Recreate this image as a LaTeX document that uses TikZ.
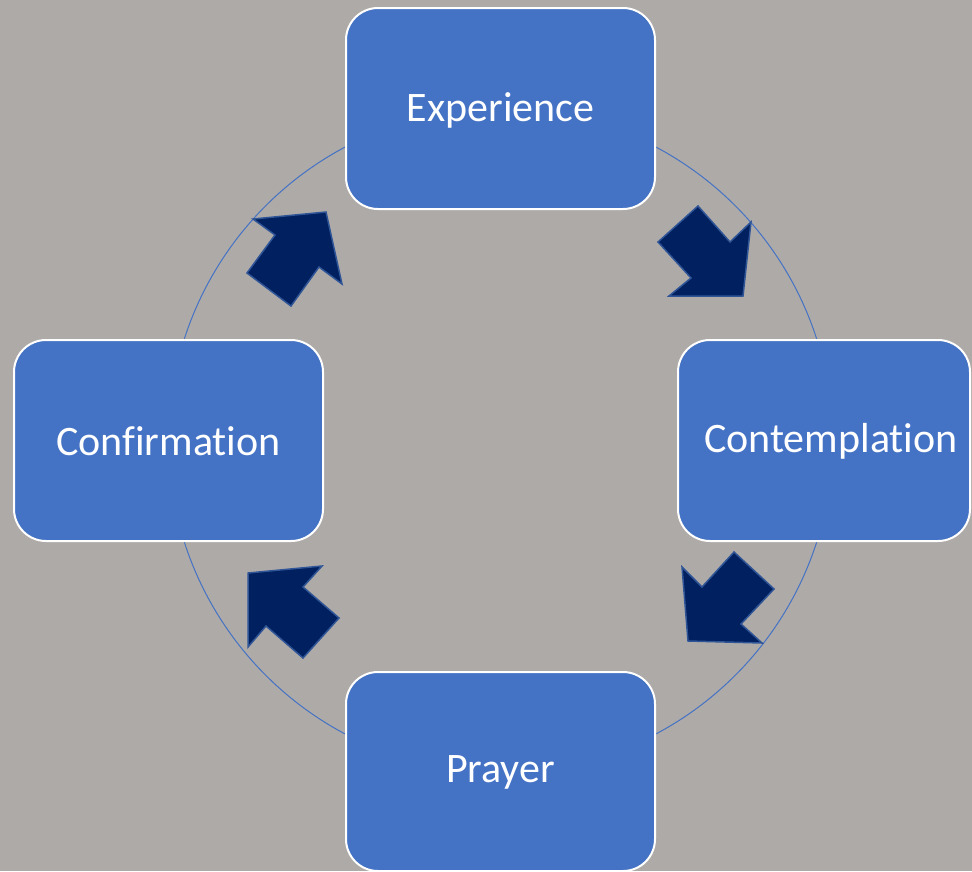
\documentclass[tikz,border=0pt]{standalone}
\usepackage{fontspec}
\setmainfont[Ligatures={NoCommon,NoContextual},RawFeature={-liga;-dlig;-clig}]{Carlito}
\definecolor{bg}{RGB}{174,170,168}
\definecolor{boxblue}{RGB}{68,114,196}
\definecolor{navy}{RGB}{0,32,96}
\definecolor{navyedge}{RGB}{47,85,151}
\tikzset{
  stage/.style={draw=white, line width=2pt, fill=boxblue, rounded corners=32pt,
    minimum width=309pt, minimum height=201pt, inner sep=0pt},
  stagetext/.style={text=white, font=\fontsize{42}{50}\selectfont, inner sep=0pt},
  blockarrow/.style={fill=navy, draw=navyedge, line width=1.5pt, line join=miter}
}
\begin{document}
\begin{tikzpicture}[x=1pt,y=-1pt]
\useasboundingbox (0,0) rectangle (972,871);
\clip (0,0) rectangle (972,871);
\fill[bg] (0,0) rectangle (972,871);
\coordinate (c) at (500.5,440.5);
\draw[boxblue, line width=1pt] (c) circle[radius=332];
\node[stage] (exp) at (500.5,108.5) {};
\node[stagetext] (expt) at (500.5,110) {Experience};
\node[stage, minimum width=292pt] (con) at (824,440.5) {};
\node[stagetext] (cont) at (831,441) {Contemplat\kern0pt ion};
\node[stage, minimum height=199pt] (pra) at (500.5,771.5) {};
\node[stagetext] (prat) at (500.5,772) {Prayer};
\node[stage] (cnf) at (168.5,440.5) {};
\node[stagetext] (cnft) at (168.5,441) {Conf\kern0pt irmat\kern0pt ion};
% block arrows
\draw[blockarrow] (698,206) -- (730,242) -- (751,222) -- (743,296) -- (669,296) -- (691,278) -- (658,242) -- cycle;
\draw[blockarrow] (734,552) -- (774,589) -- (741,624) -- (762,643) -- (688,641) -- (682,567) -- (702,587) -- cycle;
\draw[blockarrow] (248,573) -- (322,566) -- (303,587) -- (339,618) -- (303,658) -- (266,626) -- (248,647) -- cycle;
\draw[blockarrow] (253,219) -- (326,212) -- (342,284) -- (319,267) -- (291,306) -- (247,273) -- (275,235) -- cycle;
\end{tikzpicture}
\end{document}
